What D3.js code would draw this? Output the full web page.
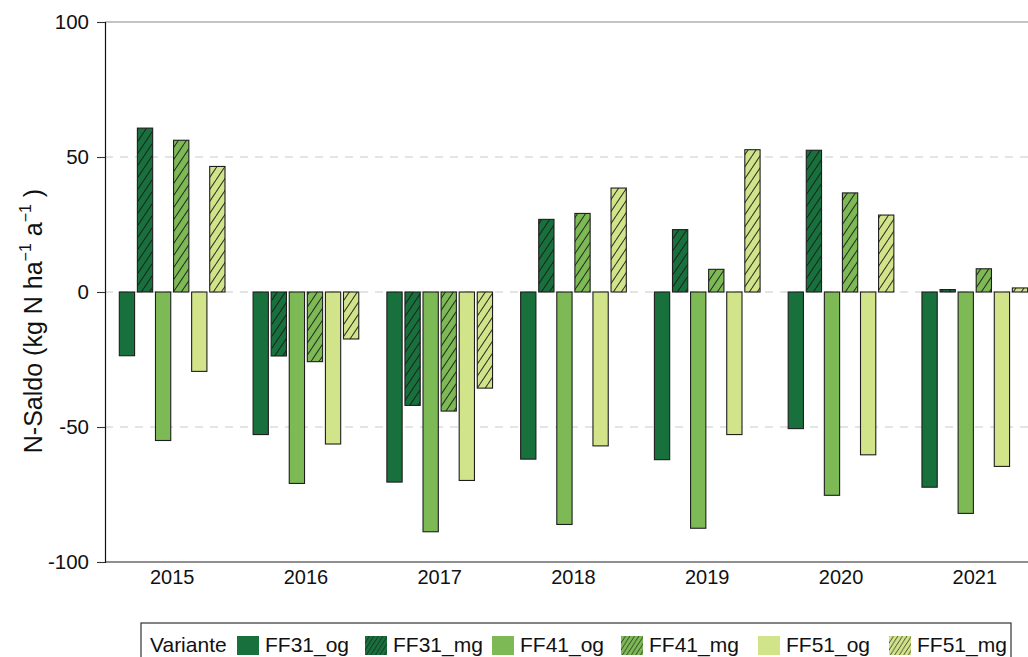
<!DOCTYPE html>
<html>
<head>
<meta charset="utf-8">
<script src="https://cdn.jsdelivr.net/npm/d3@7"></script>
<style>
  html, body { margin: 0; padding: 0; background: #fff; }
  svg { display: block; font-family: "Liberation Sans", Arial, sans-serif; }
</style>
</head>
<body>
<svg id="chart" width="1028" height="657"></svg>
<script>
// ---- data ----
const years = ["2015", "2016", "2017", "2018", "2019", "2020", "2021"];
const variants = ["FF31_og", "FF31_mg", "FF41_og", "FF41_mg", "FF51_og", "FF51_mg"];
const ff31_og = [-23.6, -52.8, -70.4, -61.9, -62.1, -50.6, -72.3];
const ff31_mg = [60.7, -23.7, -42.0, 26.9, 23.1, 52.5, 0.9];
const ff41_og = [-55.0, -70.9, -88.8, -86.1, -87.5, -75.3, -82.0];
const ff41_mg = [56.2, -25.8, -44.1, 29.1, 8.4, 36.7, 8.6];
const ff51_og = [-29.4, -56.3, -69.8, -57.0, -52.8, -60.3, -64.6];
const ff51_mg = [46.5, -17.4, -35.6, 38.5, 52.7, 28.5, 1.5];
const yTicks = [-100, -50, 0, 50, 100];
const gridValues = [-50, 0, 50];

const seriesValues = {
  "FF31_og": ff31_og, "FF31_mg": ff31_mg,
  "FF41_og": ff41_og, "FF41_mg": ff41_mg,
  "FF51_og": ff51_og, "FF51_mg": ff51_mg
};
const colorOf = { "FF31": "#18703c", "FF41": "#7db955", "FF51": "#d2e48a" };

const rows = [];
years.forEach((yr, i) => variants.forEach(v => rows.push({ year: yr, variant: v, value: seriesValues[v][i] })));

// ---- layout ----
const svg = d3.select("#chart");
const axisX = 105, plotTop = 22, plotBottom = 562;
const step = 133.85;

const x0 = d3.scaleBand().domain(years).range([axisX, axisX + years.length * step])
  .paddingInner(0.21).paddingOuter(0.107);
const x1 = d3.scaleBand().domain(variants).range([0, x0.bandwidth()]).paddingInner(0.155).paddingOuter(0);
const y = d3.scaleLinear().domain([-100, 100]).range([plotBottom, plotTop]);

// patterns
const defs = svg.append("defs");
function makePattern(id, base, w, h, sw) {
  const p = defs.append("pattern").attr("id", id).attr("patternUnits", "userSpaceOnUse")
    .attr("width", w).attr("height", h);
  p.append("rect").attr("width", w).attr("height", h).attr("fill", base);
  const ln = `M${-w},${h} L0,0 M0,${h} L${w},0 M${w},${h} L${2*w},0`;
  p.append("path").attr("d", ln).attr("stroke", "#1a1a1a").attr("stroke-opacity", 0.85)
    .attr("stroke-width", sw).attr("fill", "none");
}
Object.keys(colorOf).forEach(k => {
  makePattern("hatch_" + k, colorOf[k], 8, 12, 1.1);
  makePattern("hatchL_" + k, colorOf[k], 4.5, 7, 0.9);
});
function fillOf(v, legend) {
  const [g, t] = v.split("_");
  return t === "mg" ? `url(#${legend ? "hatchL_" : "hatch_"}${g})` : colorOf[g];
}

// grid lines
svg.append("g").selectAll("line").data(gridValues).join("line")
  .attr("x1", axisX).attr("x2", 1028)
  .attr("y1", d => y(d)).attr("y2", d => y(d))
  .attr("stroke", "#c9c9c9").attr("stroke-width", 1.2).attr("stroke-dasharray", "8,7");

// panel top / bottom border
svg.append("line").attr("x1", axisX).attr("x2", 1028).attr("y1", y(100)).attr("y2", y(100))
  .attr("stroke", "#8a8a8a").attr("stroke-width", 1.2);
svg.append("line").attr("x1", axisX).attr("x2", 1028).attr("y1", y(-100)).attr("y2", y(-100))
  .attr("stroke", "#6a6a6a").attr("stroke-width", 1.4);

// bars
svg.append("g").selectAll("rect").data(rows).join("rect")
  .attr("x", d => x0(d.year) + x1(d.variant))
  .attr("width", x1.bandwidth())
  .attr("y", d => y(Math.max(0, d.value)))
  .attr("height", d => Math.abs(y(d.value) - y(0)))
  .attr("fill", d => fillOf(d.variant, false))
  .attr("stroke", "#1e1e1e").attr("stroke-width", 1.1);

// y axis
const yAxis = d3.axisLeft(y).tickValues(yTicks).tickSize(8).tickPadding(8).tickFormat(d3.format("d"));
const gy = svg.append("g").attr("transform", `translate(${axisX},0)`).call(yAxis);
gy.select(".domain").attr("stroke", "#111").attr("stroke-width", 1.2);
gy.selectAll(".tick line").attr("stroke", "#333").attr("stroke-width", 1.1);
gy.selectAll(".tick text").attr("font-size", 20.5).attr("fill", "#111")
  .attr("font-family", "Liberation Sans, Arial, sans-serif")
  .text(d => d < 0 ? "-" + Math.abs(d) : d);

// x axis (labels only)
const xAxis = d3.axisBottom(x0).tickSize(0).tickPadding(8);
const gx = svg.append("g").attr("transform", `translate(0,${plotBottom})`).call(xAxis);
gx.select(".domain").remove();
gx.selectAll(".tick text").attr("font-size", 20).attr("fill", "#111")
  .attr("font-family", "Liberation Sans, Arial, sans-serif");

// y title
const title = svg.append("text")
  .attr("transform", `translate(42,321) rotate(-90)`)
  .attr("text-anchor", "middle").attr("font-size", 25).attr("fill", "#111");
title.append("tspan").text("N-Saldo (kg N ha");
title.append("tspan").attr("dy", -11).attr("font-size", 16).text("−1");
title.append("tspan").attr("dy", 11).text("  a");
title.append("tspan").attr("dy", -11).attr("font-size", 16).text("−1");
title.append("tspan").attr("dy", 11).text("  )");

// legend
const lg = svg.append("g");
lg.append("rect").attr("x", 141).attr("y", 623).attr("width", 870).attr("height", 50)
  .attr("fill", "#fff").attr("stroke", "#333").attr("stroke-width", 1.2);
lg.append("text").attr("x", 150).attr("y", 652).attr("font-size", 21).attr("fill", "#111").text("Variante");
const legendX = [237, 365, 492, 621, 758, 889];
const items = lg.selectAll("g.item").data(variants).join("g").attr("class", "item")
  .attr("transform", (d, i) => `translate(${legendX[i]},636)`);
items.append("rect").attr("width", 22).attr("height", 19)
  .attr("fill", d => fillOf(d, true));
items.append("text").attr("x", 28).attr("y", 16).attr("font-size", 21).attr("fill", "#111").text(d => d);
</script>
</body>
</html>
